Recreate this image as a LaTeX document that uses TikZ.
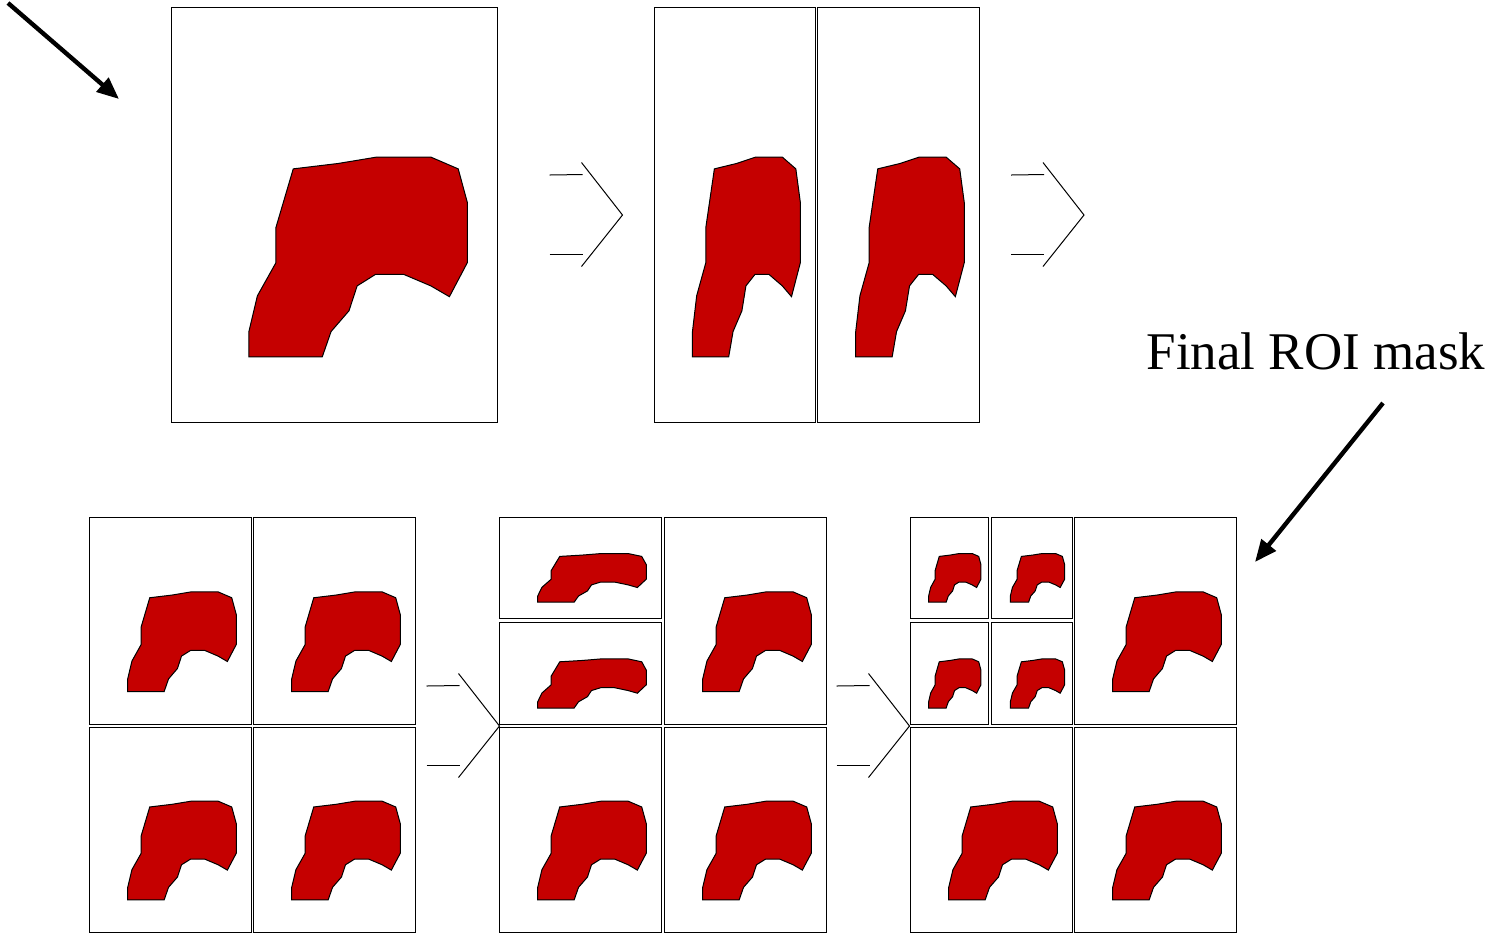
\documentclass[tikz,border=0pt]{standalone}
\usepackage{fontspec}
\setmainfont{Liberation Serif}
\usetikzlibrary{arrows.meta}
\definecolor{roired}{RGB}{197,0,0}
\tikzset{
  cellbox/.style={draw=black, line width=0.45pt},
  roishape/.style={fill=roired, draw=black, line width=0.5pt, line join=miter},
  bigarrow/.style={line width=2.2pt, -{Triangle[length=11pt,width=9pt]}},
  chev/.style={draw=black, line width=0.5pt},
  lbl/.style={anchor=base, inner sep=0pt, font=\fontsize{26.5}{30}\selectfont}
}
\newcommand\roishapepath{%
  \path[roishape] (0.375,0.390) -- (0.513,0.377) -- (0.628,0.362) -- (0.798,0.362)
    -- (0.881,0.390) -- (0.909,0.471) -- (0.909,0.616) -- (0.854,0.698)
    -- (0.797,0.672) -- (0.713,0.644) -- (0.628,0.644) -- (0.571,0.672)
    -- (0.546,0.732) -- (0.491,0.782) -- (0.464,0.843) -- (0.239,0.843)
    -- (0.239,0.782) -- (0.265,0.696) -- (0.322,0.616) -- (0.322,0.531) -- cycle;}
\newcommand\roicell[5]{%
  \coordinate (#1-nw) at (#2,#3);
  \coordinate (#1-se) at (#4,#5);
  \draw[cellbox] (#1-nw) rectangle (#1-se);
  \begin{scope}[shift={(#2,#3)}, xscale=#4-#2, yscale=#5-#3]
    \roishapepath
  \end{scope}}
\newcommand\chevron[3]{%
  \coordinate (#1) at (#2,#3);
  \draw[chev] ([shift={(-73,-40)}]#1) -- ([shift={(-40,-40.5)}]#1);
  \draw[chev] ([shift={(-73,39)}]#1) -- ([shift={(-40,39)}]#1);
  \draw[chev] ([shift={(-41,-52.5)}]#1) -- (#1) -- ([shift={(-41,51.5)}]#1);}
\begin{document}
\begin{tikzpicture}[x=0.5pt, y=-0.5pt]
\useasboundingbox (0,0) rectangle (1490,934);
% top row
\roicell{big}{171}{7}{497}{422}
\roicell{tA}{654}{7}{815}{422}
\roicell{tB}{817}{7}{979}{422}
% bottom group 1
\roicell{gA1}{89}{517}{251}{724}
\roicell{gA2}{253}{517}{415}{724}
\roicell{gA3}{89}{727}{251}{932}
\roicell{gA4}{253}{727}{415}{932}
% bottom group 2
\roicell{gB1}{499}{517}{661}{618}
\roicell{gB2}{499}{622}{661}{724}
\roicell{gB3}{664}{517}{826}{724}
\roicell{gB4}{499}{727}{661}{932}
\roicell{gB5}{664}{727}{826}{932}
% bottom group 3
\roicell{gC1}{910}{517}{988}{618}
\roicell{gC2}{991}{517}{1072}{618}
\roicell{gC3}{910}{622}{988}{724}
\roicell{gC4}{991}{622}{1072}{724}
\roicell{gC5}{1074}{517}{1236}{724}
\roicell{gC6}{910}{727}{1072}{932}
\roicell{gC7}{1074}{727}{1236}{932}
% chevron arrows
\chevron{ch1}{622.5}{215}
\chevron{ch2}{1084}{215}
\chevron{ch3}{499.5}{726}
\chevron{ch4}{909.5}{726}
% big arrows and label
\coordinate (a1s) at (8,3);
\coordinate (a1e) at (119,99);
\draw[bigarrow] (a1s) -- (a1e);
\node[lbl] (final) at (1316,369) {Final ROI mask};
\coordinate (a2s) at (1383,403);
\coordinate (a2e) at (1255,562);
\draw[bigarrow] (a2s) -- (a2e);
\end{tikzpicture}
\end{document}
